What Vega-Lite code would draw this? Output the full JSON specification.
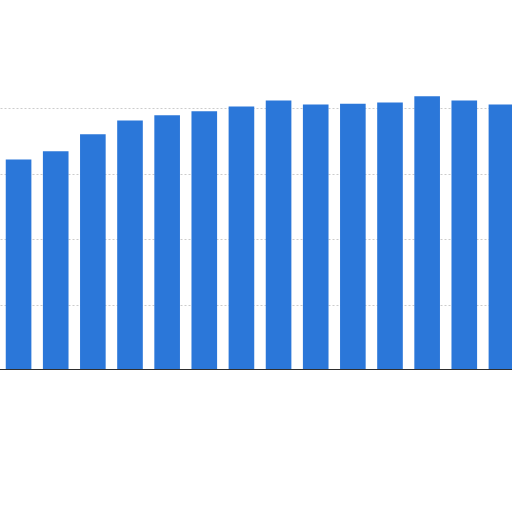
{
  "$schema": "https://vega.github.io/schema/vega-lite/v6.json",
  "autosize": {"type": "none"},
  "padding": {"left": 0, "top": 43, "right": 0, "bottom": 0},
  "width": 520,
  "height": 327,
  "background": "white",
  "data": {
    "values": [
      {"period": "01", "value": 64.4},
      {"period": "02", "value": 66.9},
      {"period": "03", "value": 72.1},
      {"period": "04", "value": 76.3},
      {"period": "05", "value": 77.9},
      {"period": "06", "value": 79.1},
      {"period": "07", "value": 80.6},
      {"period": "08", "value": 82.4},
      {"period": "09", "value": 81.2},
      {"period": "10", "value": 81.4},
      {"period": "11", "value": 81.8},
      {"period": "12", "value": 83.7},
      {"period": "13", "value": 82.4},
      {"period": "14", "value": 81.2}
    ]
  },
  "layer": [
    {
      "mark": {"type": "bar", "color": "#2b77d9"},
      "encoding": {
        "x": {
          "field": "period",
          "type": "ordinal",
          "scale": {"paddingInner": 0.31, "paddingOuter": 0.155},
          "axis": null
        },
        "y": {
          "field": "value",
          "type": "quantitative",
          "scale": {"domain": [0, 100]},
          "axis": {
            "values": [20, 40, 60, 80],
            "labels": false,
            "ticks": false,
            "domain": false,
            "title": null,
            "gridColor": "#cccccc",
            "gridDash": [2, 2],
            "gridWidth": 1
          }
        }
      }
    },
    {
      "mark": {"type": "rule", "color": "#2f2f2f", "strokeWidth": 1.5},
      "encoding": {"y": {"datum": 0}}
    }
  ],
  "config": {"view": {"stroke": null}}
}
